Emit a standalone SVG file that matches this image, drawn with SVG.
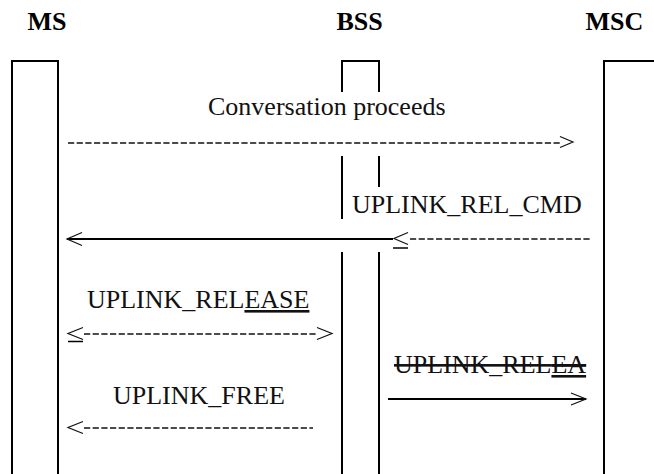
<svg xmlns="http://www.w3.org/2000/svg" width="654" height="474" viewBox="0 0 654 474">
  <style>
    .hdr { font-family: "Liberation Serif", "Times New Roman", serif; font-weight: bold; font-size: 26px; fill: #000; }
    .lbl { font-family: "Liberation Serif", "Times New Roman", serif; font-size: 26px; fill: #111; }
    .life { fill: none; stroke: #000; stroke-width: 2; }
    .dash { fill: none; stroke: #111; stroke-width: 1.5; stroke-dasharray: 6.2 2.47; }
    .solid { fill: none; stroke: #000; stroke-width: 2; }
    .head { fill: none; stroke: #111; stroke-width: 1.2; stroke-linejoin: miter; }
    .uline { fill: none; stroke: #000; stroke-width: 1.5; }
  </style>
  <rect width="654" height="474" fill="#fff"/>

  <g id="node-ms">
    <text class="hdr" x="27.5" y="30">MS</text>
    <path class="life" d="M12,474 V61 H58 V474"/>
  </g>
  <g id="node-bss">
    <text class="hdr" x="336.5" y="30">BSS</text>
    <path class="life" d="M342,92 V61 H379 V92"/>
    <path class="life" d="M342,156 V219 M379,156 V187"/>
    <path class="life" d="M342,252 V474 M379,252 V474"/>
  </g>
  <g id="node-msc">
    <text class="hdr" x="585.5" y="30">MSC</text>
    <path class="life" d="M604,474 V61 H656"/>
  </g>

  <g id="labels">
    <text class="lbl" x="208" y="115">Conversation proceeds</text>
    <text class="lbl" x="352" y="213">UPLINK_REL_CMD</text>
    <text class="lbl" x="87" y="308">UPLINK_REL<tspan style="text-decoration:underline">EASE</tspan></text>
    <text class="lbl" x="113" y="404">UPLINK_FREE</text>
    <text class="lbl" x="394" y="373" style="text-decoration:line-through">UPLINK_REL<tspan style="text-decoration:underline line-through">EA</tspan></text>
  </g>

  <g id="connectors">
    <!-- Conversation proceeds MS -> MSC -->
    <path class="dash" d="M68,143 H560"/>
    <path class="head" d="M560,136.5 L573,142 L560,147.5"/>

    <!-- UPLINK_REL_CMD MSC -> MS -->
    <path class="dash" d="M410,239 H590"/>
    <path class="head" d="M408,232.5 L394,238.5 L408,244.5"/>
    <path class="uline" d="M393,248 H408"/>
    <path class="solid" d="M67,239 H393"/>
    <path class="head" d="M82,232.5 L67,239 L82,245.5"/>

    <!-- UPLINK_RELEASE MS <-> BSS -->
    <path class="head" d="M83,327.5 L68,333.5 L83,339.5"/>
    <path class="uline" d="M68,341.5 H83"/>
    <path class="dash" d="M84,334 H318"/>
    <path class="head" d="M317,327.5 L332,333.5 L317,339.5"/>

    <!-- UPLINK_FREE BSS -> MS -->
    <path class="head" d="M83,421.5 L68,427.5 L83,433.5"/>
    <path class="dash" d="M84,428 H313"/>

    <!-- UPLINK_RELEA BSS -> MSC -->
    <path class="solid" d="M388,399 H586"/>
    <path class="head" d="M571,393 L586,399 L571,405"/>
  </g>
</svg>
